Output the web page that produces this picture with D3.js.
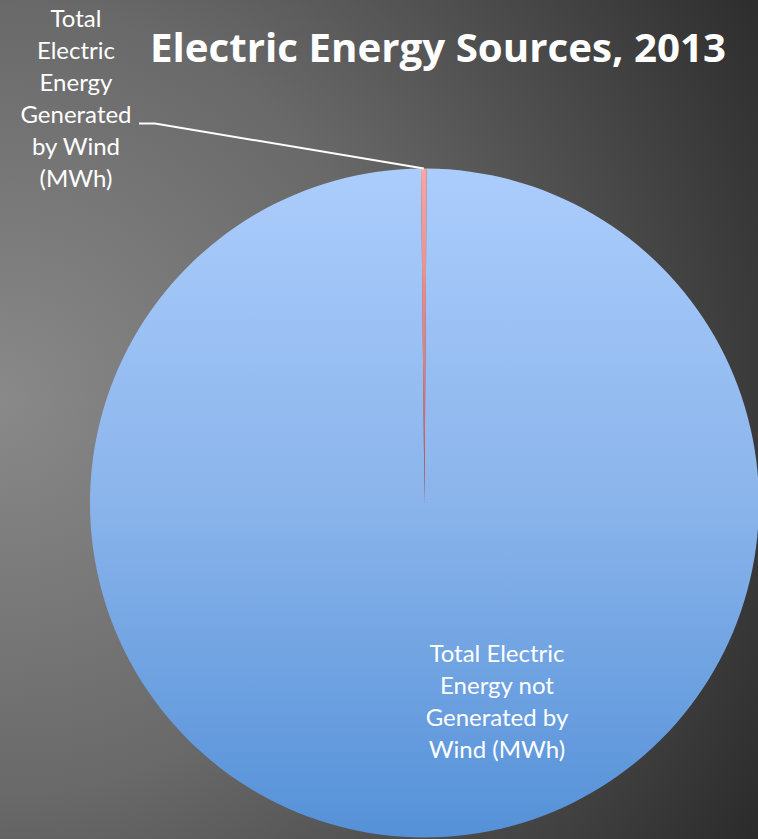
<!DOCTYPE html>
<html>
<head>
<meta charset="utf-8">
<script src="https://cdn.jsdelivr.net/npm/d3@7/dist/d3.min.js"></script>
<style>
  html, body { margin: 0; padding: 0; background: #3a3a3a; }
  svg { display: block; }
</style>
</head>
<body>
<div id="chart"></div>
<script>
// ---- data ----
const title = "Electric Energy Sources, 2013";
const categories = [
  "Total Electric Energy Generated by Wind (MWh)",
  "Total Electric Energy not Generated by Wind (MWh)"
];
const values = [10800000, 3990000000];
const labelLines = [
  ["Total", "Electric", "Energy", "Generated", "by Wind", "(MWh)"],
  ["Total Electric", "Energy not", "Generated by", "Wind (MWh)"]
];

// ---- layout ----
const W = 758, H = 839;
const cx = 424.5, cy = 503, R = 334.5;
const rotation = -0.0105;

const svg = d3.select("#chart").append("svg")
  .attr("width", W).attr("height", H);
const defs = svg.append("defs");

// background radial gradient
const bg = defs.append("radialGradient").attr("id", "bg")
  .attr("gradientUnits", "userSpaceOnUse")
  .attr("cx", 0).attr("cy", 400).attr("r", 880);
[[0, "#898989"], [0.45, "#696969"], [1, "#2a2a2a"]].forEach(([o, c]) =>
  bg.append("stop").attr("offset", o).attr("stop-color", c));
svg.append("rect").attr("width", W).attr("height", H).attr("fill", "url(#bg)");

// slice gradients (local coordinates of the translated pie group)
const gBlue = defs.append("linearGradient").attr("id", "gBlue")
  .attr("gradientUnits", "userSpaceOnUse")
  .attr("x1", 0).attr("y1", -R).attr("x2", 0).attr("y2", R);
[[0, "#abcdfd"], [0.5, "#8ab4eb"], [1, "#5591d8"]].forEach(([o, c]) =>
  gBlue.append("stop").attr("offset", o).attr("stop-color", c));
const gRed = defs.append("linearGradient").attr("id", "gRed")
  .attr("gradientUnits", "userSpaceOnUse")
  .attr("x1", 0).attr("y1", -R).attr("x2", 0).attr("y2", 0);
[[0, "#f6a6a6"], [0.6, "#dd7c7c"], [1, "#b84c4c"]].forEach(([o, c]) =>
  gRed.append("stop").attr("offset", o).attr("stop-color", c));
const fills = ["url(#gRed)", "url(#gBlue)"];

const pie = d3.pie().sort(null)
  .startAngle(rotation).endAngle(rotation + 2 * Math.PI);
const arcs = pie(values);
const arc = d3.arc().innerRadius(0).outerRadius(R);

const g = svg.append("g").attr("transform", `translate(${cx},${cy})`);
g.selectAll("path.slice").data([arcs[1], arcs[0]]).join("path")
  .attr("class", "slice")
  .attr("d", arc)
  .attr("fill", d => fills[d.index]);

// title
svg.append("text")
  .attr("x", 150).attr("y", 62)
  .attr("font-family", "'Open Sans', sans-serif")
  .attr("font-weight", "bold")
  .attr("font-size", 39)
  .attr("fill", "#ffffff")
  .attr("textLength", 576)
  .attr("lengthAdjust", "spacingAndGlyphs")
  .text(title);

const labelFont = "Lato, 'Open Sans', sans-serif";
const labelSize = 24;
const lineH = 32;

// wind label (outside, with leader line)
const windLabel = svg.append("text")
  .attr("font-family", labelFont).attr("font-size", labelSize)
  .attr("fill", "#ffffff").attr("text-anchor", "middle");
labelLines[0].forEach((t, i) => windLabel.append("tspan")
  .attr("x", 76).attr("y", 27 + i * lineH).text(t));

// leader line to outer edge of wind slice
const a0 = (arcs[0].startAngle + arcs[0].endAngle) / 2;
const ex = cx + Math.sin(a0) * R, ey = cy - Math.cos(a0) * R;
svg.append("path")
  .attr("d", d3.line()([[139, 123.5], [155, 123.5], [ex, ey]]))
  .attr("fill", "none").attr("stroke", "#ffffff").attr("stroke-width", 2);

// inner label
const otherLabel = svg.append("text")
  .attr("font-family", labelFont).attr("font-size", labelSize)
  .attr("fill", "#ffffff").attr("text-anchor", "middle");
labelLines[1].forEach((t, i) => otherLabel.append("tspan")
  .attr("x", 497).attr("y", 662 + i * lineH).text(t));
</script>
</body>
</html>
